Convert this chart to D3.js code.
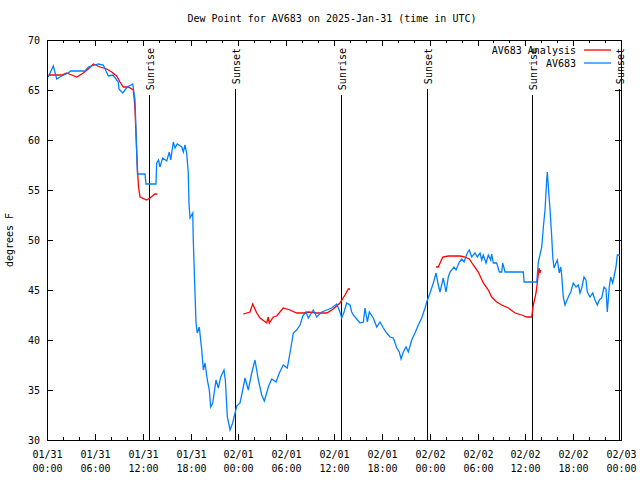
<!DOCTYPE html>
<html><head><meta charset="utf-8">
<script src="https://cdn.jsdelivr.net/npm/d3@7"></script>
<style>body{margin:0;background:#fff}svg{display:block}text{font-family:"DejaVu Sans Mono",monospace;font-size:10px;fill:#000}</style>
</head><body><svg id="c" width="640" height="480"></svg>
<script>
// hours since 2025-01-31 00:00 UTC
const obsHours = [0.16,0.79,1.22,1.84,2.67,2.97,4.77,5.18,5.61,6.44,7.06,7.69,8.28,8.94,9.03,9.50,10.07,10.75,11.04,11.16,11.25,11.35,12.29,12.42,13.67,13.76,13.99,14.17,14.51,15.02,15.34,15.52,15.84,16.06,16.34,16.90,17.10,17.31,17.52,17.72,17.81,17.94,18.28,18.35,18.56,18.69,18.85,19.10,19.41,19.61,19.82,20.11,20.36,20.53,20.79,21.20,21.49,21.79,22.20,22.37,22.62,22.96,23.29,23.80,24.21,24.42,24.84,25.25,25.68,26.09,26.51,26.93,27.26,27.76,28.19,28.73,29.14,29.64,30.14,30.48,30.90,31.32,31.74,32.08,32.49,32.78,33.40,33.83,34.46,35.09,35.71,36.34,36.75,36.97,37.26,37.59,38.01,38.22,38.42,38.85,39.26,39.68,39.89,40.18,40.43,40.93,41.36,41.77,42.19,42.61,43.03,43.44,43.87,44.19,44.41,44.69,45.03,45.32,45.75,46.16,46.58,47.00,47.42,47.63,48.04,48.46,48.80,49.08,49.30,49.71,50.05,50.34,50.55,51.05,51.31,51.72,52.02,52.31,52.72,52.97,53.27,53.69,53.98,54.32,54.53,54.73,55.07,55.36,55.66,55.78,55.98,56.41,56.74,57.04,57.16,57.45,59.75,59.84,61.43,61.63,62.06,62.26,62.47,62.68,62.76,62.89,63.10,63.31,63.44,63.60,63.85,64.01,64.26,64.44,64.56,64.76,64.98,65.39,65.69,66.02,66.36,66.65,66.86,67.07,67.36,67.61,67.77,68.11,68.45,68.74,69.03,69.28,69.58,69.87,70.12,70.28,70.53,70.71,70.96,71.12,71.37,71.54,71.88];
const obsValues = [66.3,67.4,66.1,66.4,66.7,66.9,66.9,67.3,67.4,67.6,67.5,66.4,66.5,65.8,65.1,64.7,65.3,65.6,64.0,61.0,58.7,56.6,56.6,55.6,55.6,57.7,58.0,57.3,58.2,57.9,58.8,58.0,59.8,59.2,59.6,59.3,58.8,59.5,58.7,56.7,53.7,52.2,52.7,50.0,44.8,41.7,40.7,41.3,39.0,37.0,37.7,36.0,35.0,33.3,33.7,36.0,35.2,36.3,37.0,36.0,32.3,31.0,31.7,33.4,33.7,34.5,36.2,35.0,36.7,38.0,36.0,34.5,33.9,35.3,36.1,35.8,36.7,37.5,37.2,38.7,40.7,41.0,41.5,42.4,42.8,42.2,43.0,42.3,42.8,43.0,43.2,43.6,42.8,42.2,42.8,43.7,43.5,42.8,42.5,42.1,41.7,41.8,43.2,41.8,42.8,42.2,41.3,41.8,41.2,40.7,40.3,40.2,39.2,38.8,38.1,38.8,39.3,38.8,40.0,40.7,41.5,42.2,43.2,43.8,44.7,45.7,46.7,45.5,44.8,46.2,44.8,46.3,46.8,47.3,47.0,47.8,48.1,47.8,48.7,49.0,48.3,48.7,48.3,48.7,48.0,48.5,47.7,48.5,48.0,48.6,47.7,47.7,46.8,46.8,47.7,46.8,46.8,45.8,45.8,47.8,49.3,51.3,53.0,56.0,56.8,55.3,53.0,50.3,48.3,47.2,47.7,48.0,46.7,47.3,46.5,44.3,43.5,44.3,44.8,45.7,45.3,45.5,44.7,45.2,46.3,46.0,44.8,44.3,44.7,44.0,43.5,44.0,44.2,45.3,45.1,42.8,45.3,46.3,45.7,46.3,47.3,48.5,48.5];
const anaHours = [0.16,1.84,2.47,3.10,3.73,4.55,5.18,5.81,6.65,7.49,8.12,8.74,9.16,9.57,10.20,10.83,10.95,11.04,11.16,11.35,11.48,11.67,12.51,12.92,13.55,13.84,null,24.62,25.47,25.80,26.31,26.72,27.56,27.76,27.89,28.39,28.81,29.64,30.48,31.32,32.15,32.78,33.83,35.09,35.91,36.75,37.38,37.80,38.01,null,48.80,49.08,49.64,50.34,51.81,52.44,52.97,53.47,54.10,54.73,55.36,55.78,56.41,57.04,57.87,58.71,59.55,60.17,60.80,61.00,61.34,61.50,61.72,61.84,61.93];
const anaValues = [66.5,66.5,66.7,66.5,66.3,66.7,67.1,67.6,67.3,67.1,66.8,66.4,65.8,65.3,65.3,65.0,64.0,63.0,60.7,57.0,55.3,54.3,54.0,54.2,54.6,54.6,null,42.6,42.8,43.6,42.7,42.2,41.7,42.3,41.7,42.3,42.4,43.2,43.0,42.7,42.7,42.8,42.7,42.7,43.1,43.7,44.5,45.1,45.1,null,47.3,47.3,48.3,48.4,48.4,48.3,48.1,47.5,46.8,45.7,45.0,44.3,43.8,43.5,43.2,42.7,42.5,42.3,42.3,43.5,44.7,45.7,47.2,46.7,47.0];
const sunTimes = ["2025-01-31T12:48Z","2025-01-31T23:35Z","2025-02-01T12:53Z","2025-02-01T23:40Z","2025-02-02T12:50Z","2025-02-02T23:45Z"];
const sunLabels = ["Sunrise","Sunset","Sunrise","Sunset","Sunrise","Sunset"];
const yTicks = [30,35,40,45,50,55,60,65,70];
const seriesNames = ["AV683 Analysis","AV683"];
const seriesColors = ["#ff0000","#0080ff"];
const titleText = "Dew Point for AV683 on 2025-Jan-31 (time in UTC)";
const yLabel = "degrees F";

const t0 = Date.UTC(2025,0,31,0,0);
const toDate = h => new Date(t0 + h*3600000);
const L=47, R=621, T=40, B=440;
const svg = d3.select("#c");
const x = d3.scaleUtc().domain([toDate(0), toDate(72)]).range([L,R]);
const y = d3.scaleLinear().domain([30,70]).range([B,T]);

svg.append("text").attr("x",332).attr("y",22).attr("text-anchor","middle").text(titleText);
svg.append("text").attr("transform","translate(13,240) rotate(-90)").attr("text-anchor","middle").text(yLabel);

const g = svg.append("g").attr("stroke","#000").attr("stroke-width",1).attr("shape-rendering","crispEdges");
// y ticks
yTicks.forEach(v=>{
  const yy = Math.round(y(v))+0.5;
  g.append("line").attr("x1",L).attr("x2",L+6).attr("y1",yy).attr("y2",yy);
  g.append("line").attr("x1",R-6).attr("x2",R).attr("y1",yy).attr("y2",yy);
  svg.append("text").attr("x",L-7).attr("y",yy+3.5).attr("text-anchor","end").text(v);
});
// x ticks
const minor = x.ticks(d3.utcHour.every(2));
minor.forEach(d=>{
  const xx = Math.round(x(d))+0.5;
  const major = d.getUTCHours()%6===0;
  const len = major?6:3;
  g.append("line").attr("x1",xx).attr("x2",xx).attr("y1",B).attr("y2",B-len);
  g.append("line").attr("x1",xx).attr("x2",xx).attr("y1",T).attr("y2",T+len);
  if(major){
    svg.append("text").attr("x",xx).attr("y",458).attr("text-anchor","middle").text(d3.utcFormat("%m/%d")(d));
    svg.append("text").attr("x",xx).attr("y",472).attr("text-anchor","middle").text(d3.utcFormat("%H:%M")(d));
  }
});

const line = d3.line().defined(d=>d[0]!==null&&d[1]!==null).x(d=>x(toDate(d[0]))).y(d=>y(d[1]));
svg.append("path").datum(anaHours.map((h,i)=>[h,anaValues[i]])).attr("d",line)
  .attr("fill","none").attr("stroke",seriesColors[0]).attr("stroke-width",1.3);
svg.append("path").datum(obsHours.map((h,i)=>[h,obsValues[i]])).attr("d",line)
  .attr("fill","none").attr("stroke",seriesColors[1]).attr("stroke-width",1.3);

// sun lines
sunTimes.forEach((s,i)=>{
  const xx = Math.round(x(new Date(s)))+0.5;
  const t = svg.append("text").attr("transform",`translate(${xx+4},48) rotate(-90)`).attr("text-anchor","end").text(sunLabels[i]);
  const len = t.node().getComputedTextLength();
  g.append("line").attr("x1",xx).attr("x2",xx).attr("y1",48+len+5).attr("y2",B).attr("stroke-width",1.2);
});

// legend
seriesNames.forEach((n,i)=>{
  const yy = 50+i*13;
  svg.append("text").attr("x",576).attr("y",yy+3.5).attr("text-anchor","end").text(n);
  svg.append("line").attr("x1",584).attr("x2",611).attr("y1",yy).attr("y2",yy).attr("stroke",seriesColors[i]).attr("stroke-width",1.3);
});

// frame
g.append("rect").attr("x",L+0.5).attr("y",T+0.5).attr("width",R-L).attr("height",B-T).attr("fill","none");
</script></body></html>
